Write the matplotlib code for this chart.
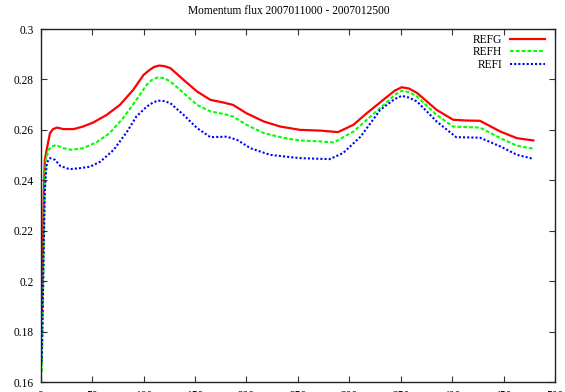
import matplotlib
matplotlib.use("Agg")
import matplotlib.pyplot as plt

plt.rcParams['font.family'] = ['Liberation Serif', 'DejaVu Serif']

# REFG
x_g = [1, 2, 3, 4, 6, 9, 12, 16, 22, 32, 41, 51, 64, 77, 90, 100, 106, 110,
       115, 120, 126, 139, 152, 165, 178, 187, 200, 217, 233, 242, 252, 272,
       289, 304, 317, 337, 344, 351, 358, 366, 385, 401, 414, 427, 447, 463,
       479]
y_g = [0.186, 0.205, 0.235, 0.248, 0.2525, 0.2587, 0.2603, 0.2609, 0.2603,
       0.2603, 0.2613, 0.2629, 0.2659, 0.2699, 0.2759, 0.2818, 0.2838, 0.2849,
       0.2855, 0.2853, 0.2845, 0.2798, 0.2752, 0.2719, 0.2708, 0.2699, 0.2666,
       0.2633, 0.2613, 0.2607, 0.2600, 0.2597, 0.2591, 0.2620, 0.2666, 0.2732,
       0.2755, 0.2769, 0.2764, 0.2746, 0.2679, 0.2640, 0.2637, 0.2636, 0.2593,
       0.2567, 0.2558]

# REFH
x_h = [1, 2, 3, 4, 5, 7.4, 10.7, 15, 22, 30, 41, 54, 67, 80, 93, 103, 108,
       114, 120, 126, 139, 152, 165, 178, 187, 200, 217, 233, 242, 252, 272,
       285, 304, 317, 337, 344, 351, 358, 366, 385, 401, 414, 427, 447, 463,
       479]
y_h = [0.164, 0.185, 0.215, 0.240, 0.248, 0.252, 0.2534, 0.254, 0.2527,
       0.2521, 0.2527, 0.255, 0.2587, 0.2646, 0.2719, 0.2779, 0.2798, 0.2808,
       0.2805, 0.2792, 0.2746, 0.2699, 0.2673, 0.2663, 0.2653, 0.262, 0.2587,
       0.2571, 0.2564, 0.2558, 0.2554, 0.255, 0.2593, 0.264, 0.2712, 0.2738,
       0.2755, 0.2750, 0.2732, 0.2659, 0.2613, 0.2611, 0.2609, 0.2567, 0.2537,
       0.2525]

# REFI
x_i = [1, 2, 3, 4, 5, 6, 9, 14, 19, 28, 38, 48, 58, 71, 84, 93, 103, 109,
       114, 120, 126, 139, 152, 165, 181, 191, 204, 223, 242, 252, 272, 281,
       294, 311, 330, 344, 351, 358, 366, 385, 404, 427, 447, 463, 479]
y_i = [0.168, 0.190, 0.215, 0.235, 0.242, 0.247, 0.2488, 0.2481, 0.2457,
       0.2444, 0.2448, 0.2454, 0.2474, 0.2521, 0.2593, 0.2653, 0.2692, 0.2708,
       0.2716, 0.2714, 0.2706, 0.2659, 0.2607, 0.2571, 0.2573, 0.256, 0.2527,
       0.2501, 0.2492, 0.2488, 0.2485, 0.2484, 0.2508, 0.2573, 0.2679, 0.2722,
       0.2735, 0.2728, 0.2712, 0.2633, 0.2571, 0.2569, 0.2534, 0.2501, 0.2485]

x_ticks = list(range(0, 501, 50))
y_ticks = [0.16, 0.18, 0.2, 0.22, 0.24, 0.26, 0.28, 0.3]
y_labels = ['0.16', '0.18', '0.2', '0.22', '0.24', '0.26', '0.28', '0.3']

fig = plt.figure(figsize=(5.65, 3.92), dpi=100)
ax = fig.add_axes([40.7 / 565, 10 / 392, (555 - 40.7) / 565, (382 - 29) / 392])

ax.plot(x_g, y_g, color='#ff0000', lw=1.6, label='REFG')
ax.plot(x_h, y_h, color='#00ff00', lw=1.5, dashes=(1.8, 1.0), label='REFH')
ax.plot(x_i, y_i, color='#0000ff', lw=1.5, dashes=(1.0, 1.0), label='REFI')

ax.set_xlim(0, 500)
ax.set_ylim(0.16, 0.3)
ax.set_xticks(x_ticks)
ax.set_yticks(y_ticks)
ax.set_yticklabels(y_labels)
ax.tick_params(direction='in', length=4.5, width=0.8, labelsize=8.3,
               top=True, right=True, color='#333333')
ax.tick_params(axis='y', pad=5)
ax.tick_params(axis='x', pad=6)
for s in ax.spines.values():
    s.set_linewidth(1.0)
    s.set_color('#222222')

fig.text(289 / 565, 1 - 11 / 392, 'Momentum flux 2007011000 - 2007012500',
         ha='center', va='center', fontsize=8.3)

ax.legend(loc='upper right', bbox_to_anchor=(545 / 565, 1 - 34 / 392),
          bbox_transform=fig.transFigure, frameon=False, markerfirst=False,
          fontsize=8.3, handlelength=3.0, handletextpad=0.7, labelspacing=0.03,
          borderpad=0, borderaxespad=0)

fig.savefig('out.png', dpi=100)
